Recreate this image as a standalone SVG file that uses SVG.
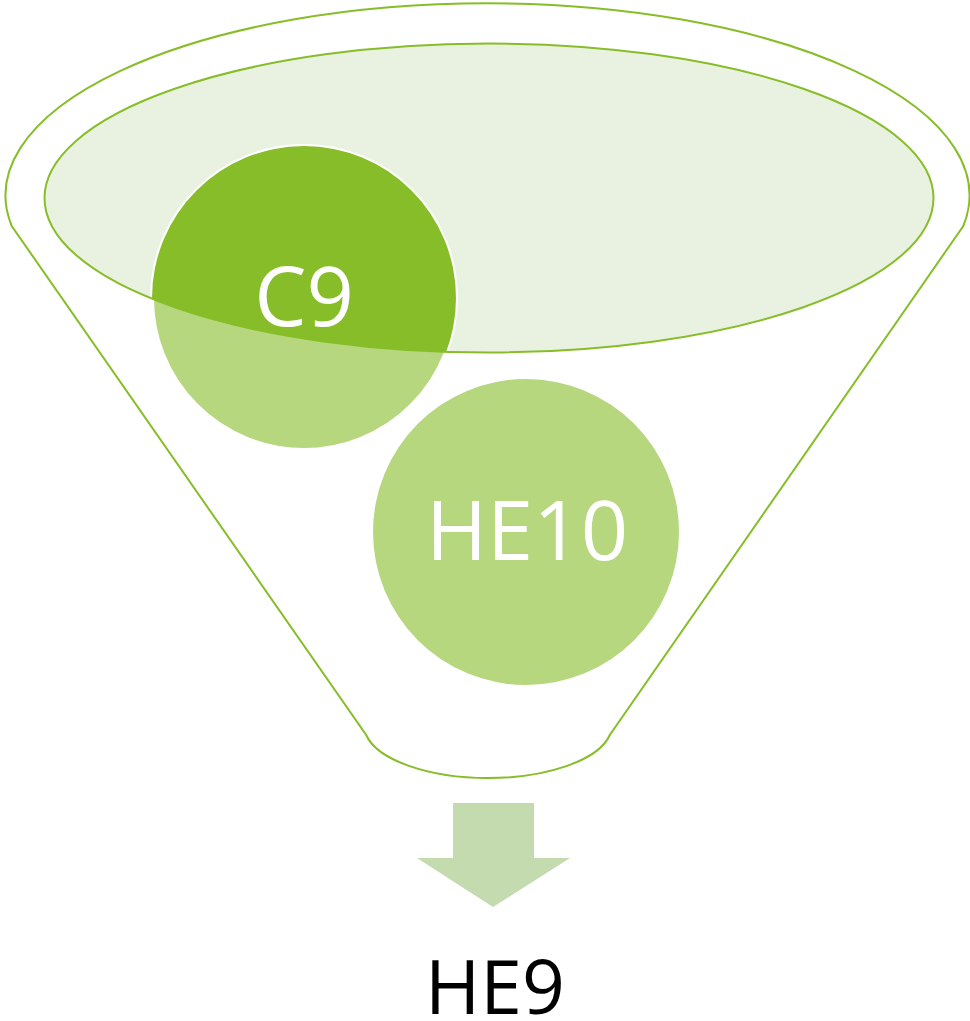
<svg xmlns="http://www.w3.org/2000/svg" width="970" height="1021" viewBox="0 0 970 1021">
  <style>
    .outline { fill: none; stroke: #87BD28; stroke-width: 2; }
    .lbl { font-family: "Open Sans", "Noto Sans", sans-serif; fill: #FFFFFF; text-anchor: middle; }
  </style>
  <defs>
    <clipPath id="innerClip">
      <ellipse cx="489" cy="198" rx="444.5" ry="154.5"/>
    </clipPath>
  </defs>
  <g id="funnel">
    <path class="outline" fill="#FFFFFF" d="M 11.7,226 A 482 192 0 1 1 963.3,226 L 609.8,735 A 124 53 0 0 1 366.2,735 Z"/>
    <ellipse cx="489" cy="198" rx="444.5" ry="154.5" fill="#E9F2E1"/>
  </g>
  <g id="node-c9">
    <circle cx="304" cy="298" r="152" fill="#B6D77E" stroke="#FFFFFF" stroke-width="4"/>
    <circle cx="304" cy="298" r="152" fill="#87BD28" clip-path="url(#innerClip)"/>
    <ellipse class="outline" cx="489" cy="198" rx="444.5" ry="154.5"/>
    <text class="lbl" x="304" y="326" font-size="83">C9</text>
  </g>
  <g id="node-he10">
    <circle cx="526" cy="532" r="153" fill="#B6D77E"/>
    <text class="lbl" x="527" y="560" font-size="83">HE10</text>
  </g>
  <g id="connectors">
    <path d="M 453,803 L 534,803 L 534,858 L 570,858 L 493,907 L 417,858 L 453,858 Z" fill="#C3DBAE"/>
  </g>
  <g id="node-he9">
    <text x="495" y="1014" font-family="Open Sans, Noto Sans, sans-serif" font-size="75" fill="#000000" text-anchor="middle">HE9</text>
  </g>
</svg>
